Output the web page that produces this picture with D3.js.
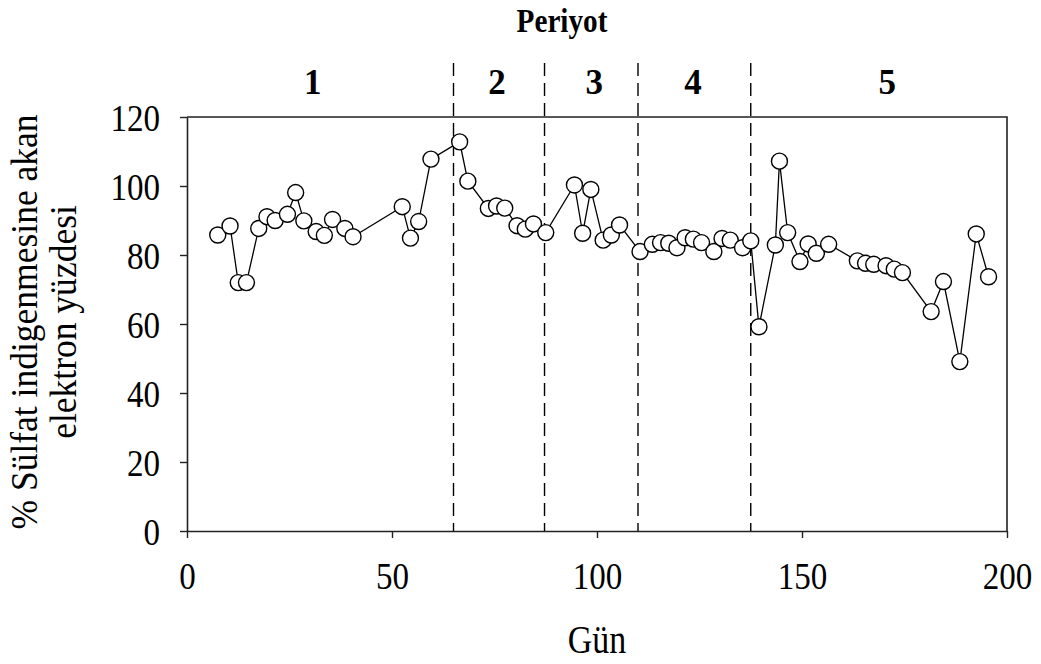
<!DOCTYPE html>
<html>
<head>
<meta charset="utf-8">
<script src="https://cdn.jsdelivr.net/npm/d3@7"></script>
<style>
  body { margin: 0; background: #fff; }
  svg text { font-family: "Liberation Serif", "Times New Roman", serif; fill: #000; }
</style>
</head>
<body>
<svg id="chart" width="1041" height="664"></svg>
<script>
// Day and percent values
const days = [7.5, 10.5, 12.5, 14.5, 17.5, 19.5, 21.5, 24.5, 26.5, 28.5, 31.5, 33.5, 35.5, 38.5, 40.5,
  52.5, 54.5, 56.5, 59.5, 66.5, 68.5, 73.5, 75.5, 77.5, 80.5, 82.5, 84.5, 87.5, 94.5, 96.5, 98.5,
  101.5, 103.5, 105.5, 110.5, 113.5, 115.5, 117.5, 119.5, 121.5, 123.5, 125.5, 128.5, 130.5, 132.5,
  135.5, 137.5, 139.5, 143.5, 144.5, 146.5, 149.5, 151.5, 153.5, 156.5, 163.5, 165.5, 167.5, 170.5,
  172.5, 174.5, 181.5, 184.5, 188.5, 192.5, 195.5];
const values = [85.8, 88.4, 72.0, 72.0, 87.7, 91.1, 90.0, 91.8, 98.1, 89.9, 86.8, 85.7, 90.3, 87.7, 85.3,
  94.0, 84.9, 89.7, 107.8, 112.8, 101.4, 93.5, 94.2, 93.6, 88.5, 87.5, 89.0, 86.5, 100.3, 86.3, 99.0,
  84.3, 85.8, 88.7, 81.0, 83.1, 83.6, 83.4, 82.1, 85.0, 84.6, 83.6, 81.0, 84.8, 84.3,
  82.1, 84.1, 59.2, 82.9, 107.2, 86.5, 78.1, 83.2, 80.5, 83.1, 78.3, 77.6, 77.3, 76.9,
  75.9, 74.9, 63.6, 72.3, 49.1, 86.1, 73.7];

// Period boundaries (day) and labels
const periodBounds = [65, 87.2, 110, 137.5];
const periodNames = ["1", "2", "3", "4", "5"];
const periodLabelX = [30.7, 75.6, 99.3, 123.4, 170.8];

const xTicks = [0, 50, 100, 150, 200];
const yTicks = [0, 20, 40, 60, 80, 100, 120];

const svg = d3.select('#chart');
const plotLeft = 187, plotRight = 1007, plotTop = 117, plotBottom = 531;
const squeeze = 0.87; // the source font is narrower than Liberation Serif

const x = d3.scaleLinear().domain([0, 200]).range([plotLeft, plotRight]);
const y = d3.scaleLinear().domain([0, 120]).range([plotBottom, plotTop]);

// Plot frame (top and right edges)
svg.append('path')
  .attr('d', `M${plotLeft},${plotTop}H${plotRight}V${plotBottom}`)
  .attr('fill', 'none')
  .attr('stroke', '#222')
  .attr('stroke-width', 1.6);

// Axes
const xAxis = svg.append('g')
  .attr('transform', `translate(0,${plotBottom})`)
  .call(d3.axisBottom(x).tickValues(xTicks).tickSize(7).tickSizeOuter(0));
const yAxis = svg.append('g')
  .attr('transform', `translate(${plotLeft},0)`)
  .call(d3.axisLeft(y).tickValues(yTicks).tickSize(7).tickSizeOuter(0));

[xAxis, yAxis].forEach(g => {
  g.select('.domain').attr('stroke', '#222').attr('stroke-width', 1.6);
  g.selectAll('.tick line').attr('stroke', '#222').attr('stroke-width', 1.4);
  g.selectAll('.tick text')
    .style('font-family', '"Liberation Serif", "Times New Roman", serif')
    .style('font-size', '38px')
    .attr('fill', '#000')
    .attr('dy', 0)
    .attr('transform', `scale(${squeeze},1)`);
});
xAxis.selectAll('.tick text').attr('x', 0).attr('y', 58);
yAxis.selectAll('.tick text').attr('x', -27 / squeeze).attr('y', 13);

// Dashed period separators
svg.append('g')
  .selectAll('line')
  .data(periodBounds)
  .join('line')
  .attr('x1', d => x(d))
  .attr('x2', d => x(d))
  .attr('y1', 63)
  .attr('y2', plotBottom)
  .attr('stroke', '#000')
  .attr('stroke-width', 1.4)
  .attr('stroke-dasharray', '13,7');

// Period labels
svg.append('g')
  .selectAll('text')
  .data(periodNames)
  .join('text')
  .attr('x', (d, i) => x(periodLabelX[i]))
  .attr('y', 94)
  .attr('text-anchor', 'middle')
  .style('font-size', '35px')
  .style('font-weight', 'bold')
  .text(d => d);

svg.append('text')
  .attr('transform', 'translate(562,32) scale(0.86,1)')
  .attr('text-anchor', 'middle')
  .style('font-size', '34px')
  .style('font-weight', 'bold')
  .text('Periyot');

// Line + markers
const pts = days.map((d, i) => ({ day: d, val: values[i] }));

svg.append('path')
  .datum(pts)
  .attr('fill', 'none')
  .attr('stroke', '#000')
  .attr('stroke-width', 1.3)
  .attr('d', d3.line().x(d => x(d.day)).y(d => y(d.val)));

svg.append('g')
  .selectAll('circle')
  .data(pts)
  .join('circle')
  .attr('cx', d => x(d.day))
  .attr('cy', d => y(d.val))
  .attr('r', 8)
  .attr('fill', '#fff')
  .attr('stroke', '#000')
  .attr('stroke-width', 1.4);

// Axis titles
svg.append('text')
  .attr('transform', `translate(597,653) scale(${squeeze},1)`)
  .attr('text-anchor', 'middle')
  .style('font-size', '39px')
  .text('Gün');

const yTitle = svg.append('text')
  .attr('transform', 'translate(0,322) rotate(-90) scale(0.96,1)')
  .attr('text-anchor', 'middle')
  .style('font-size', '37px');
yTitle.append('tspan').attr('x', 0).attr('y', 37).text('% Sülfat indigenmesine akan');
yTitle.append('tspan').attr('x', 0).attr('y', 76).text('elektron yüzdesi');
</script>
</body>
</html>
